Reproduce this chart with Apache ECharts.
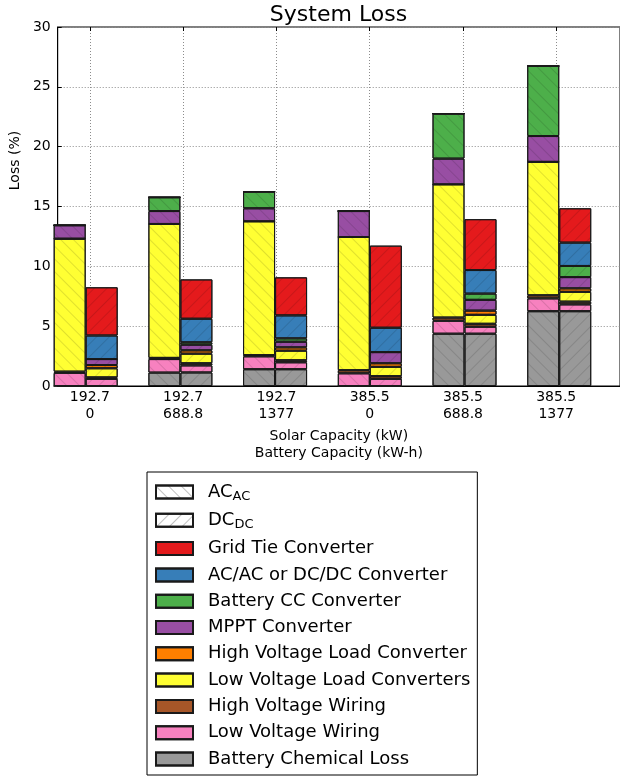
<!DOCTYPE html>
<html>
<head>
<meta charset="utf-8">
<script src="https://cdn.jsdelivr.net/npm/echarts@6/dist/echarts.min.js"></script>
<style>
  html, body { margin: 0; padding: 0; background: #fff; }
  #chart { width: 620px; height: 777px; }
</style>
</head>
<body>
<div id="chart"></div>
<script>
// Category labels (two lines per group)
const solarCapacity = ['192.7', '192.7', '192.7', '385.5', '385.5', '385.5'];
const batteryCapacity = ['0', '688.8', '1377', '0', '688.8', '1377'];
const groupPositions = [0, 1, 2, 3, 4, 5];
const yTicks = [0, 5, 10, 15, 20, 25, 30];

// Loss components, bottom of the stack first
const lossNames = [
  'Battery Chemical Loss', 'Low Voltage Wiring', 'High Voltage Wiring',
  'Low Voltage Load Converters', 'High Voltage Load Converter', 'MPPT Converter',
  'Battery CC Converter', 'AC/AC or DC/DC Converter', 'Grid Tie Converter'
];
const lossColors = ['#999999', '#f781bf', '#a65628', '#ffff33', '#ff7f00', '#984ea3', '#4daf4a', '#377eb8', '#e41a1c'];

// AC architecture losses (%)
const acBatteryChem = [0, 1.12, 1.40, 0, 4.37, 6.25];
const acLvWiring    = [1.10, 1.13, 1.08, 1.06, 1.08, 1.07];
const acHvWiring    = [0.10, 0.10, 0.10, 0.26, 0.27, 0.26];
const acLvLoad      = [11.11, 11.19, 11.18, 11.13, 11.13, 11.15];
const acHvLoad      = [0, 0, 0, 0, 0, 0];
const acMppt        = [1.12, 1.08, 1.09, 2.17, 2.15, 2.16];
const acBattCC      = [0, 1.15, 1.39, 0, 3.76, 5.85];
const acConverter   = [0, 0, 0, 0, 0, 0];
const acGridTie     = [0, 0, 0, 0, 0, 0];

// DC architecture losses (%)
const dcBatteryChem = [0, 1.13, 1.40, 0, 4.37, 6.25];
const dcLvWiring    = [0.60, 0.59, 0.58, 0.60, 0.58, 0.57];
const dcHvWiring    = [0.12, 0.18, 0.17, 0.22, 0.25, 0.23];
const dcLvLoad      = [0.76, 0.80, 0.80, 0.78, 0.75, 0.82];
const dcHvLoad      = [0.27, 0.28, 0.28, 0.30, 0.35, 0.29];
const dcMppt        = [0.50, 0.47, 0.47, 0.93, 0.90, 0.94];
const dcBattCC      = [0, 0.20, 0.28, 0, 0.52, 0.93];
const dcConverter   = [1.97, 1.97, 1.92, 2.04, 1.97, 1.95];
const dcGridTie     = [4.03, 3.29, 3.18, 6.86, 4.25, 2.87];

const acSeriesData = [acBatteryChem, acLvWiring, acHvWiring, acLvLoad, acHvLoad, acMppt, acBattCC, acConverter, acGridTie];
const dcSeriesData = [dcBatteryChem, dcLvWiring, dcHvWiring, dcLvLoad, dcHvLoad, dcMppt, dcBattCC, dcConverter, dcGridTie];

const FONT = 'DejaVu Sans';

// Axes frame: x runs from xMin to xMax in group units
const xMin = -0.345, xMax = 5.684;
const frame = { left: 53, top: 27, width: 571, height: 359 };
const unitPx = frame.width / (xMax - xMin);
// Bar grid: one category band per group, centred on the group positions
const barGrid = {
  left: frame.left + (0 - xMin) * unitPx - unitPx / 2,
  top: frame.top, width: unitPx * groupPositions.length, height: frame.height
};

function hatch(rotation, color) {
  return {
    symbol: 'rect', symbolSize: 1,
    dashArrayX: [1, 0], dashArrayY: [1, 8],
    rotation: rotation, color: color
  };
}
// AC bars: back-slash hatching; DC bars: forward-slash hatching
const hatchAC = hatch(Math.PI / 4, 'rgba(0,0,0,0.12)');
const hatchDC = hatch(-Math.PI / 4, 'rgba(0,0,0,0.12)');
const edge = '#1a1a1a';
const barCommon = { type: 'bar', xAxisIndex: 2, yAxisIndex: 1, barWidth: 32, barGap: '0%' };

const series = [];
// legend-only entries describing the two hatch styles
series.push(Object.assign({}, barCommon, { name: 'AC_AC', stack: 'ac', data: [],
  itemStyle: { color: '#ffffff', borderColor: edge, borderWidth: 1, decal: hatch(Math.PI / 4, 'rgba(0,0,0,0.25)') } }));
series.push(Object.assign({}, barCommon, { name: 'DC_DC', stack: 'dc', data: [],
  itemStyle: { color: '#ffffff', borderColor: edge, borderWidth: 1, decal: hatch(-Math.PI / 4, 'rgba(0,0,0,0.25)') } }));

lossNames.forEach((name, k) => {
  series.push(Object.assign({}, barCommon, {
    name: name, stack: 'ac', data: acSeriesData[k],
    itemStyle: { color: lossColors[k], borderColor: edge, borderWidth: 1, decal: hatchAC }
  }));
});
lossNames.forEach((name, k) => {
  series.push(Object.assign({}, barCommon, {
    name: name, stack: 'dc', data: dcSeriesData[k],
    itemStyle: { color: lossColors[k], borderColor: edge, borderWidth: 1, decal: hatchDC }
  }));
});

const legendOrder = ['AC_AC', 'DC_DC'].concat(lossNames.slice().reverse());
const plainDecal = { symbol: 'rect', symbolSize: 1, dashArrayX: [1, 0], dashArrayY: [1, 8], color: 'rgba(0,0,0,0)' };

const gridLine = { color: '#8c8c8c', width: 1, type: [1, 2] };

const option = {
  animation: false,
  aria: { enabled: true, decal: { show: true } },
  grid: [
    Object.assign({ show: true, borderColor: '#000', borderWidth: 1, containLabel: false }, frame),
    Object.assign({ show: false, containLabel: false }, barGrid)
  ],
  graphic: [{
    type: 'text',
    x: frame.left + frame.width / 2, y: 15,
    style: { text: 'System Loss', fontFamily: FONT, fontSize: 22, fill: '#000', align: 'center', verticalAlign: 'middle' }
  }],
  xAxis: [{
    gridIndex: 0, type: 'value', position: 'bottom', min: xMin, max: xMax,
    axisLine: { show: true, onZero: false, lineStyle: { color: '#000', width: 1 } },
    axisTick: { show: true, inside: true, length: 4, customValues: groupPositions, lineStyle: { color: '#000' } },
    axisLabel: {
      customValues: groupPositions,
      formatter: v => solarCapacity[Math.round(v)] + '\n' + batteryCapacity[Math.round(v)],
      fontFamily: FONT, fontSize: 14, lineHeight: 17, color: '#000', margin: 3
    },
    splitLine: { show: true, lineStyle: gridLine },
    name: 'Solar Capacity (kW)\nBattery Capacity (kW-h)',
    nameLocation: 'middle', nameGap: 42,
    nameTextStyle: { fontFamily: FONT, fontSize: 14, lineHeight: 17, color: '#000' }
  }, {
    gridIndex: 0, type: 'value', position: 'top', min: xMin, max: xMax,
    axisLine: { show: false, onZero: false },
    axisTick: { show: true, inside: true, length: 4, customValues: groupPositions, lineStyle: { color: '#000' } },
    axisLabel: { show: false },
    splitLine: { show: false }
  }, {
    gridIndex: 1, type: 'category', position: 'bottom',
    data: solarCapacity.map((s, i) => s + '\n' + batteryCapacity[i]),
    show: false
  }],
  yAxis: [{
    gridIndex: 0, type: 'value', min: yTicks[0], max: yTicks[yTicks.length - 1], interval: 5,
    axisLine: { show: true, onZero: false, lineStyle: { color: '#000', width: 1 } },
    axisTick: { show: true, inside: true, length: 4, lineStyle: { color: '#000' } },
    axisLabel: { fontFamily: FONT, fontSize: 14, color: '#000', margin: 7 },
    splitLine: { show: true, lineStyle: gridLine },
    name: 'Loss (%)', nameLocation: 'middle', nameGap: 29,
    nameTextStyle: { fontFamily: FONT, fontSize: 14, color: '#000', padding: [0, 0, 0, 92] }
  }, {
    gridIndex: 1, type: 'value', min: yTicks[0], max: yTicks[yTicks.length - 1], interval: 5,
    show: false, splitLine: { show: false }
  }],
  legend: {
    orient: 'vertical', left: 147, top: 472, height: 300,
    selectedMode: false,
    backgroundColor: '#fff', borderColor: '#000', borderWidth: 1, borderRadius: 0,
    padding: [11, 7, 7, 8],
    itemWidth: 37, itemHeight: 13, itemGap: 8.3,
    icon: 'rect',
    data: legendOrder.map(n => (n === 'AC_AC' || n === 'DC_DC') ? { name: n } : { name: n, itemStyle: { decal: plainDecal } }),
    formatter: name => {
      if (name === 'AC_AC') return '{m|AC}{s|AC}';
      if (name === 'DC_DC') return '{m|DC}{s|DC}';
      return '{m|' + name + '}';
    },
    textStyle: {
      fontFamily: FONT, fontSize: 18, color: '#000',
      rich: {
        m: { fontFamily: FONT, fontSize: 18, lineHeight: 22, color: '#000', padding: [0, 0, 0, 10] },
        s: { fontFamily: FONT, fontSize: 13, lineHeight: 10, color: '#000', verticalAlign: 'bottom' }
      }
    }
  },
  series: series
};

const chart = echarts.init(document.getElementById('chart'), null, { renderer: 'canvas' });
chart.setOption(option);
</script>
</body>
</html>
